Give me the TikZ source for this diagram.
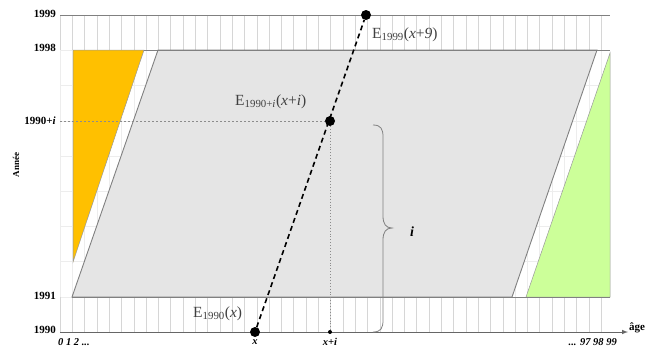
\documentclass[tikz,border=0pt]{standalone}
\usepackage{fontspec}
\setmainfont{Liberation Serif}
\begin{document}
\begin{tikzpicture}[x=1pt,y=-1pt,
  faintgrid/.style={draw=black!7,line width=0.6pt},
  bandgrid/.style={draw=black!16,line width=0.6pt},
  yearline/.style={draw=black!50,line width=0.9pt},
  yearlab/.style={anchor=east,font=\bfseries\fontsize{11}{12}\selectfont,inner sep=1pt},
  agelab/.style={font=\bfseries\itshape\fontsize{10.5}{12}\selectfont,inner sep=1pt},
  elab/.style={font=\fontsize{15.5}{17}\selectfont,text=black!75,inner sep=1pt},
  bigdot/.style={circle,fill=black,inner sep=0pt,minimum size=10pt},
  smalldot/.style={circle,fill=black,inner sep=0pt,minimum size=4pt}]
\useasboundingbox (0,0) rectangle (653,349);
% faint grid
\foreach \i in {0,...,44} \draw[faintgrid] ({60+12.3*\i},15) -- ({60+12.3*\i},332);
\foreach \j in {1,...,8} \draw[faintgrid] (60,{332-35.2*\j}) -- (610,{332-35.2*\j});
% band grid
\foreach \i in {0,...,44} {
  \draw[bandgrid] ({60+12.3*\i},15) -- ({60+12.3*\i},50);
  \draw[bandgrid] ({60+12.3*\i},297) -- ({60+12.3*\i},332);
}
% shapes
\fill[fill=black!10,draw=black!50,line width=0.9pt] (72,297) -- (158,50) -- (597,50) -- (512,297) -- cycle;
\fill[fill={rgb,255:red,255;green,192;blue,0},draw=black!40,line width=0.5pt] (73,50) -- (144,50) -- (73,262) -- cycle;
\fill[fill={rgb,255:red,204;green,255;blue,153},draw=black!40,line width=0.5pt] (526,297) -- (610,297) -- (610,53) -- cycle;
% year lines
\draw[yearline] (60,15) -- (610,15);
\draw[yearline] (144,50) -- (610,50);
\draw[yearline] (72,297) -- (610,297);
% axis
\draw[draw=black!60,line width=1pt,-latex] (60,332) -- (628,332);
\node[font=\bfseries\fontsize{11}{12}\selectfont,anchor=west,inner sep=0pt] (age) at (629,328) {âge};
% labels
\node[yearlab] (y1999) at (57,14) {1999};
\node[yearlab] (y1998) at (57,48) {1998};
\node[yearlab] (y199i) at (57,121) {1990+\textit{i}};
\node[yearlab] (y1991) at (57,296) {1991};
\node[yearlab] (y1990) at (57,330) {1990};
\node[rotate=90,font=\bfseries\fontsize{9}{10}\selectfont] (annee) at (16,165) {Année};
\node[agelab,anchor=west] (a0) at (57,342) {0 1 2 ...};
\node[agelab,anchor=east] (a99) at (618,342) {... 97 98 99};
\node[agelab] (ax) at (255,342) {x};
\node[agelab] (axi) at (330,342) {x+i};
% points
\node[bigdot] (p0) at (255,332) {};
\node[bigdot] (p9) at (366,15) {};
\node[bigdot] (pi) at (330,121) {};
\node[smalldot] (pxi) at (330,332) {};
\coordinate (lefti) at (60,121);
% guides
\draw[black!45,dashed,dash pattern=on 2pt off 2pt,line width=0.7pt] (lefti) -- (pi);
\draw[black!45,dotted,line width=0.9pt] (pi) -- (pxi);
\draw[black,dashed,dash pattern=on 5pt off 3.5pt,line width=1.6pt] (p0) -- (p9);
% E labels
\node[elab,anchor=west] (e9) at (371,35) {E\textsubscript{1999}(\textit{x}+\textit{9})};
\node[elab,anchor=west] (ei) at (234,102) {E\textsubscript{1990+\textit{i}}(\textit{x}+\textit{i})};
\node[elab,anchor=west] (e0) at (192,314) {E\textsubscript{1990}(\textit{x})};
% brace
\draw[black!50,line width=0.8pt] (373,125) .. controls (381,125) and (383,129) .. (383,137)
  -- (383,216) .. controls (383,224) and (386,228) .. (392,228)
  .. controls (386,228) and (383,232) .. (383,240)
  -- (383,320) .. controls (383,328) and (381,332) .. (373,332);
\node[font=\bfseries\itshape\fontsize{14}{16}\selectfont] (ilab) at (412,232) {i};
\end{tikzpicture}
\end{document}
